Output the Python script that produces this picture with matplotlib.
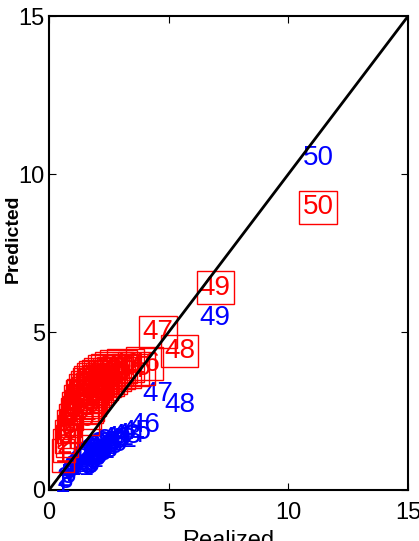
import matplotlib
matplotlib.use("Agg")
import matplotlib.pyplot as plt

# realized values (sorted), item labels 1..50
realized = [0.25, 0.30, 0.38, 0.42, 0.48, 0.52, 0.55, 0.60, 0.63, 0.66,
            0.70, 0.73, 0.76, 0.80, 0.83, 0.86, 0.90, 0.93, 0.96, 1.00,
            1.04, 1.08, 1.12, 1.16, 1.20, 1.25, 1.30, 1.35, 1.40, 1.45,
            1.50, 1.56, 1.62, 1.68, 1.75, 1.82, 1.90, 1.98, 2.06, 2.15,
            2.25, 2.40, 2.55, 2.75, 3.00, 3.35, 3.90, 4.80, 6.30, 10.60]

# predicted, model drawn in blue
pred_blue = [0.15, 0.35, 0.30, 0.55, 0.45, 0.60, 0.50, 0.70, 0.62, 0.75,
             0.68, 0.80, 0.72, 0.90, 0.85, 0.78, 0.95, 1.00, 0.88, 1.05,
             0.95, 1.10, 1.02, 1.15, 1.08, 1.20, 1.12, 1.25, 1.18, 1.30,
             1.22, 1.35, 1.28, 1.40, 1.45, 1.38, 1.50, 1.55, 1.45, 1.60,
             1.65, 1.58, 1.70, 1.75, 1.85, 2.05, 3.05, 2.70, 5.45, 10.50]

# predicted, model drawn in red (boxed labels)
pred_red = [1.10, 1.40, 1.70, 1.55, 2.00, 1.85, 2.20, 2.05, 2.40, 2.25,
            2.60, 2.45, 2.80, 2.65, 2.95, 2.70, 3.00, 2.85, 3.15, 2.95,
            3.25, 3.05, 3.35, 3.15, 3.40, 3.20, 3.50, 3.30, 3.55, 3.35,
            3.60, 3.45, 3.65, 3.50, 3.75, 3.55, 3.80, 3.65, 3.85, 3.70,
            3.90, 3.75, 3.95, 3.80, 3.85, 4.00, 5.00, 4.40, 6.40, 8.95]

labels = [str(i) for i in range(1, 51)]
ticks = [0, 5, 10, 15]

plt.rcParams['font.family'] = ['Liberation Sans', 'DejaVu Sans']

fig = plt.figure(figsize=(4.19, 5.41), dpi=100)
ax = fig.add_axes([0.117, 0.0943, 0.857, 0.876])

for x, y, t in zip(realized, pred_blue, labels):
    ax.text(x, y, t, color='blue', fontsize=20, ha='left', va='center')

for x, y, t in zip(realized, pred_red, labels):
    ax.text(x, y, t, color='red', fontsize=20, ha='left', va='center',
            bbox=dict(boxstyle='square,pad=0.12', fc='none', ec='red', lw=1))

ax.plot([0, 15], [0, 15], color='black', lw=2, zorder=5)

ax.set_xlim(0, 15)
ax.set_ylim(0, 15)
ax.set_xticks(ticks)
ax.set_yticks(ticks)
ax.tick_params(direction='in', top=True, right=True, length=5, labelsize=17)
ax.tick_params(axis='x', pad=9)
ax.tick_params(axis='y', pad=3)
for s in ax.spines.values():
    s.set_linewidth(1.5)

ax.set_xlabel('Realized', fontsize=17, labelpad=4)
ax.set_ylabel('Predicted', fontsize=14, fontweight='bold')
ax.yaxis.set_label_coords(-0.075, 0.53)

fig.savefig('out.png', dpi=100)
